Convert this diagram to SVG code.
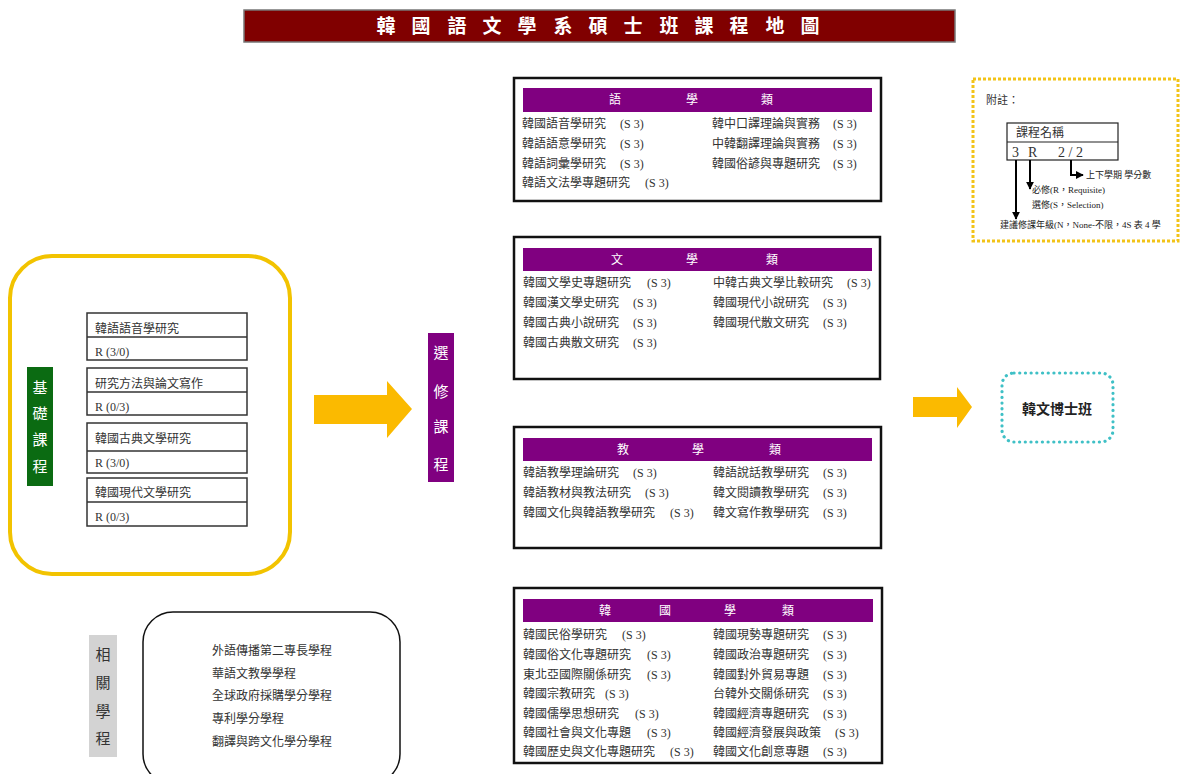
<svg xmlns="http://www.w3.org/2000/svg" width="1181" height="774" viewBox="0 0 1181 774">
<defs>
<style>
.t{font-family:"Liberation Serif","Noto Sans CJK TC",serif;font-size:12px;fill:#333}
.h{font-family:"Noto Sans CJK TC",sans-serif;font-size:12px;fill:#fff;text-anchor:middle}
.v{font-family:"Noto Sans CJK TC",sans-serif;font-size:15px;fill:#fff;text-anchor:middle}
.box{fill:#fff;stroke:#111;stroke-width:2.5}
.hdr{fill:#800080}
.cb{fill:#fff;stroke:#333;stroke-width:1.5}
.s{font-family:"Liberation Serif","Noto Sans CJK TC",serif;font-size:9px;fill:#222}
</style>
<marker id="ah" viewBox="0 0 10 10" refX="9" refY="5" markerWidth="4" markerHeight="4" orient="auto"><path d="M0,0 L10,5 L0,10 z" fill="#000"/></marker>
</defs>
<rect width="1181" height="774" fill="#fff"/>

<g id="title">
<rect x="244" y="10" width="711" height="32" fill="#800000" stroke="#777" stroke-width="1.5"/>
<text x="386 421 457 492 527 563 598 633 669 704 739 775 810" y="33" font-family="Noto Sans CJK TC,sans-serif" font-size="19" font-weight="bold" fill="#fff" text-anchor="middle">韓國語文學系碩士班課程地圖</text>
</g>

<g id="legend">
<rect x="973" y="79" width="205" height="162" fill="#fff" stroke="#F2C318" stroke-width="3" stroke-dasharray="3 2"/>
<text class="t" x="986" y="104" style="font-size:11px">附註：</text>
<rect x="1007" y="123" width="111" height="37" fill="#fff" stroke="#222" stroke-width="1.2"/>
<line x1="1007" y1="142" x2="1118" y2="142" stroke="#222" stroke-width="1.2"/>
<text class="t" x="1016" y="137" style="font-size:12px">課程名稱</text>
<text class="t" x="1012" y="157" style="font-size:14px">3</text>
<text class="t" x="1028" y="157" style="font-size:14px">R</text>
<text class="t" x="1058" y="157" style="font-size:14px">2 / 2</text>
<line x1="1016" y1="160" x2="1016" y2="219" stroke="#000" stroke-width="2" marker-end="url(#ah)"/>
<line x1="1030" y1="160" x2="1030" y2="189" stroke="#000" stroke-width="2" marker-end="url(#ah)"/>
<polyline points="1071,160 1071,175 1083,175" fill="none" stroke="#000" stroke-width="2" marker-end="url(#ah)"/>
<text class="s" x="1086" y="178">上下學期 學分數</text>
<text class="s" x="1032" y="193">必修(R，Requisite)</text>
<text class="s" x="1032" y="208">選修(S，Selection)</text>
<text class="s" x="1000" y="228">建議修課年級(N，None-不限，4S 表 4 學</text>
</g>

<g id="basic">
<rect x="10" y="256" width="280" height="318" rx="42" fill="#fff" stroke="#F2C300" stroke-width="4"/>
<rect x="27" y="367" width="26" height="119" fill="#0B6B12"/>
<text class="v" x="40" y="393">基</text>
<text class="v" x="40" y="419">礎</text>
<text class="v" x="40" y="445">課</text>
<text class="v" x="40" y="472">程</text>
<rect class="cb" x="87" y="313" width="160" height="47"/><line x1="87" y1="337" x2="247" y2="337" stroke="#333" stroke-width="1.5"/>
<text class="t" x="95" y="333">韓語語音學研究</text><text class="t" x="95" y="356">R (3/0)</text>
<rect class="cb" x="87" y="368" width="160" height="47"/><line x1="87" y1="392" x2="247" y2="392" stroke="#333" stroke-width="1.5"/>
<text class="t" x="95" y="388">研究方法與論文寫作</text><text class="t" x="95" y="411">R (0/3)</text>
<rect class="cb" x="87" y="423" width="160" height="50"/><line x1="87" y1="451" x2="247" y2="451" stroke="#333" stroke-width="1.5"/>
<text class="t" x="95" y="443">韓國古典文學研究</text><text class="t" x="95" y="467">R (3/0)</text>
<rect class="cb" x="87" y="478" width="160" height="48"/><line x1="87" y1="502" x2="247" y2="502" stroke="#333" stroke-width="1.5"/>
<text class="t" x="95" y="497">韓國現代文學研究</text><text class="t" x="95" y="521">R (0/3)</text>
</g>

<g id="connectors">
<polygon points="314,395 387,395 387,381 412,409 387,438 387,424 314,424" fill="#FBBA00"/>
<polygon points="913,397 957,397 957,387 972,407 957,428 957,417 913,417" fill="#FBBA00"/>
</g>

<g id="elective">
<rect x="428" y="333" width="26" height="149" fill="#800080"/>
<text class="v" x="441" y="358">選</text>
<text class="v" x="441" y="397">修</text>
<text class="v" x="441" y="432">課</text>
<text class="v" x="441" y="470">程</text>
</g>

<g id="lang">
<rect class="box" x="514" y="78" width="367" height="123"/>
<rect class="hdr" x="523" y="88" width="349" height="24"/>
<text class="h" x="615" y="104">語</text><text class="h" x="692" y="104">學</text><text class="h" x="767" y="104">類</text>
<text class="t" x="522" y="128">韓國語音學研究</text><text class="t" x="620" y="128">(S 3)</text>
<text class="t" x="522" y="148">韓語語意學研究</text><text class="t" x="620" y="148">(S 3)</text>
<text class="t" x="522" y="168">韓語詞彙學研究</text><text class="t" x="620" y="168">(S 3)</text>
<text class="t" x="522" y="187">韓語文法學專題研究</text><text class="t" x="645" y="187">(S 3)</text>
<text class="t" x="712" y="128">韓中口譯理論與實務</text><text class="t" x="833" y="128">(S 3)</text>
<text class="t" x="712" y="148">中韓翻譯理論與實務</text><text class="t" x="833" y="148">(S 3)</text>
<text class="t" x="712" y="168">韓國俗諺與專題研究</text><text class="t" x="833" y="168">(S 3)</text>
</g>

<g id="lit">
<rect class="box" x="514" y="237" width="366" height="142"/>
<rect class="hdr" x="523" y="248" width="349" height="23"/>
<text class="h" x="617" y="264">文</text><text class="h" x="692" y="264">學</text><text class="h" x="772" y="264">類</text>
<text class="t" x="523" y="287">韓國文學史專題研究</text><text class="t" x="647" y="287">(S 3)</text>
<text class="t" x="523" y="307">韓國漢文學史研究</text><text class="t" x="633" y="307">(S 3)</text>
<text class="t" x="523" y="327">韓國古典小說研究</text><text class="t" x="633" y="327">(S 3)</text>
<text class="t" x="523" y="347">韓國古典散文研究</text><text class="t" x="633" y="347">(S 3)</text>
<text class="t" x="713" y="287">中韓古典文學比較研究</text><text class="t" x="847" y="287">(S 3)</text>
<text class="t" x="713" y="307">韓國現代小說研究</text><text class="t" x="823" y="307">(S 3)</text>
<text class="t" x="713" y="327">韓國現代散文研究</text><text class="t" x="823" y="327">(S 3)</text>
</g>

<g id="teach">
<rect class="box" x="514" y="427" width="367" height="121"/>
<rect class="hdr" x="523" y="438" width="349" height="23"/>
<text class="h" x="623" y="454">教</text><text class="h" x="698" y="454">學</text><text class="h" x="775" y="454">類</text>
<text class="t" x="523" y="477">韓語教學理論研究</text><text class="t" x="633" y="477">(S 3)</text>
<text class="t" x="523" y="497">韓語教材與教法研究</text><text class="t" x="645" y="497">(S 3)</text>
<text class="t" x="523" y="517">韓國文化與韓語教學研究</text><text class="t" x="670" y="517">(S 3)</text>
<text class="t" x="713" y="477">韓語說話教學研究</text><text class="t" x="823" y="477">(S 3)</text>
<text class="t" x="713" y="497">韓文閱讀教學研究</text><text class="t" x="823" y="497">(S 3)</text>
<text class="t" x="713" y="517">韓文寫作教學研究</text><text class="t" x="823" y="517">(S 3)</text>
</g>

<g id="korea">
<rect class="box" x="514" y="588" width="368" height="175"/>
<rect class="hdr" x="523" y="599" width="350" height="23"/>
<text class="h" x="605" y="615">韓</text><text class="h" x="665" y="615">國</text><text class="h" x="730" y="615">學</text><text class="h" x="788" y="615">類</text>
<text class="t" x="523" y="639">韓國民俗學研究</text><text class="t" x="622" y="639">(S 3)</text>
<text class="t" x="523" y="659">韓國俗文化專題研究</text><text class="t" x="647" y="659">(S 3)</text>
<text class="t" x="523" y="679">東北亞國際關係研究</text><text class="t" x="647" y="679">(S 3)</text>
<text class="t" x="523" y="698">韓國宗教研究</text><text class="t" x="605" y="698">(S 3)</text>
<text class="t" x="523" y="718">韓國儒學思想研究</text><text class="t" x="635" y="718">(S 3)</text>
<text class="t" x="523" y="737">韓國社會與文化專題</text><text class="t" x="647" y="737">(S 3)</text>
<text class="t" x="523" y="756">韓國歷史與文化專題研究</text><text class="t" x="670" y="756">(S 3)</text>
<text class="t" x="713" y="639">韓國現勢專題研究</text><text class="t" x="823" y="639">(S 3)</text>
<text class="t" x="713" y="659">韓國政治專題研究</text><text class="t" x="823" y="659">(S 3)</text>
<text class="t" x="713" y="679">韓國對外貿易專題</text><text class="t" x="823" y="679">(S 3)</text>
<text class="t" x="713" y="698">台韓外交關係研究</text><text class="t" x="823" y="698">(S 3)</text>
<text class="t" x="713" y="718">韓國經濟專題研究</text><text class="t" x="823" y="718">(S 3)</text>
<text class="t" x="713" y="737">韓國經濟發展與政策</text><text class="t" x="835" y="737">(S 3)</text>
<text class="t" x="713" y="756">韓國文化創意專題</text><text class="t" x="823" y="756">(S 3)</text>
</g>

<g id="related">
<rect x="89" y="635" width="28" height="122" fill="#D3D3D3"/>
<text class="v" x="103" y="660" style="fill:#333">相</text>
<text class="v" x="103" y="688" style="fill:#333">關</text>
<text class="v" x="103" y="717" style="fill:#333">學</text>
<text class="v" x="103" y="744" style="fill:#333">程</text>
<rect x="143" y="612" width="257" height="172" rx="30" fill="#fff" stroke="#111" stroke-width="1.5"/>
<text class="t" x="212" y="655">外語傳播第二專長學程</text>
<text class="t" x="212" y="678">華語文教學學程</text>
<text class="t" x="212" y="700">全球政府採購學分學程</text>
<text class="t" x="212" y="723">專利學分學程</text>
<text class="t" x="212" y="746">翻譯與跨文化學分學程</text>
</g>

<g id="phd">
<rect x="1002" y="373" width="111" height="69" rx="12" fill="#fff" stroke="#3FC0C6" stroke-width="3.2" stroke-linecap="round" stroke-dasharray="0.1 5.6"/>
<text x="1057" y="414" font-family="Noto Sans CJK TC,sans-serif" font-size="14" font-weight="bold" fill="#222" text-anchor="middle">韓文博士班</text>
</g>
</svg>
